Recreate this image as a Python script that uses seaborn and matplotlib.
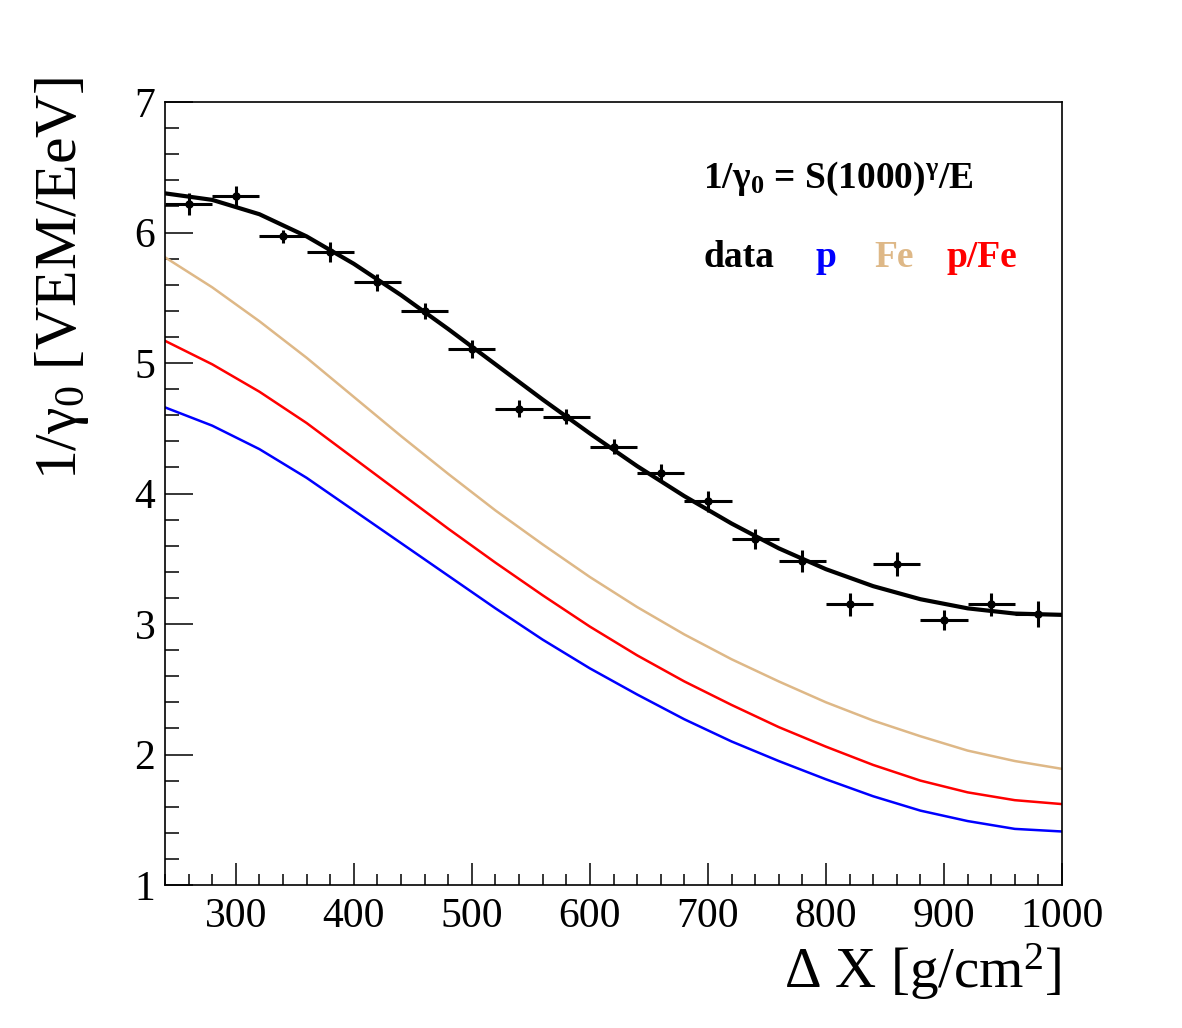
import numpy as np
import pandas as pd
import seaborn as sns
import matplotlib.pyplot as plt
from matplotlib.ticker import MultipleLocator

# measured points (ΔX bin centres, 1/gamma0, errors)
dx_data = [260, 300, 340, 380, 420, 460, 500, 540, 580, 620,
           660, 700, 740, 780, 820, 860, 900, 940, 980]
g_data = [6.22, 6.28, 5.97, 5.85, 5.62, 5.40, 5.11, 4.65, 4.59, 4.36,
          4.16, 3.94, 3.65, 3.48, 3.15, 3.46, 3.03, 3.15, 3.08]
g_err = [0.085, 0.075, 0.05, 0.075, 0.065, 0.06, 0.07, 0.065, 0.06, 0.06,
         0.065, 0.08, 0.075, 0.085, 0.085, 0.09, 0.075, 0.085, 0.10]
dx_err = [20] * len(dx_data)

# curves
dx_curve = [240, 280, 320, 360, 400, 440, 480, 520, 560, 600,
            640, 680, 720, 760, 800, 840, 880, 920, 960, 1000]
fit_data = [6.30, 6.25, 6.14, 5.97, 5.76, 5.52, 5.26, 4.99, 4.72, 4.46,
            4.21, 3.98, 3.77, 3.58, 3.42, 3.29, 3.19, 3.12, 3.08, 3.07]
curve_fe = [5.81, 5.58, 5.32, 5.04, 4.74, 4.44, 4.15, 3.87, 3.61, 3.36,
            3.13, 2.92, 2.73, 2.56, 2.40, 2.26, 2.14, 2.03, 1.95, 1.89]
curve_pfe = [5.17, 4.99, 4.78, 4.54, 4.27, 4.00, 3.73, 3.47, 3.22, 2.98,
             2.76, 2.56, 2.38, 2.21, 2.06, 1.92, 1.80, 1.71, 1.65, 1.62]
curve_p = [4.66, 4.52, 4.34, 4.12, 3.87, 3.62, 3.37, 3.12, 2.88, 2.66,
           2.46, 2.27, 2.10, 1.95, 1.81, 1.68, 1.57, 1.49, 1.43, 1.41]

sns.set_style('ticks')
plt.rcParams['font.family'] = ['Liberation Serif', 'DejaVu Serif']
plt.rcParams['mathtext.fontset'] = 'custom'
plt.rcParams['mathtext.rm'] = 'Liberation Serif'
plt.rcParams['mathtext.it'] = 'Liberation Serif:italic'
plt.rcParams['mathtext.bf'] = 'Liberation Serif:bold'
for k in ['text.color', 'axes.labelcolor', 'xtick.color', 'ytick.color',
          'axes.edgecolor']:
    plt.rcParams[k] = 'black'

fig = plt.figure(figsize=(11.82, 10.28), dpi=100)
ax = fig.add_axes([165/1182, 1-885/1028, (1062-165)/1182, (885-102)/1028])

df = pd.DataFrame({'dx': dx_curve, 'fit': fit_data, 'Fe': curve_fe,
                   'pFe': curve_pfe, 'p': curve_p})

sns.lineplot(data=df, x='dx', y='p', color='#0000ff', lw=1.8, ax=ax)
sns.lineplot(data=df, x='dx', y='pFe', color='#ff0000', lw=1.8, ax=ax)
sns.lineplot(data=df, x='dx', y='Fe', color='#deb887', lw=1.8, ax=ax)

ax.errorbar(dx_data, g_data, xerr=dx_err, yerr=g_err, fmt='o', ms=5,
            color='black', elinewidth=2.2, capsize=0, zorder=3)
sns.lineplot(data=df, x='dx', y='fit', color='black', lw=3, ax=ax, zorder=4)

ax.set_xlim(240, 1000)
ax.set_ylim(1, 7)
ax.set_xlabel('')
ax.set_ylabel('')
ax.xaxis.set_major_locator(MultipleLocator(100))
ax.xaxis.set_minor_locator(MultipleLocator(20))
ax.yaxis.set_major_locator(MultipleLocator(1))
ax.yaxis.set_minor_locator(MultipleLocator(0.2))
ax.tick_params(which='both', direction='in', top=False, right=False,
               labelsize=30, width=1.1)
ax.tick_params(axis='y', which='major', length=20, pad=7)
ax.tick_params(axis='y', which='minor', length=10)
ax.tick_params(axis='x', which='major', length=16, pad=9)
ax.tick_params(axis='x', which='minor', length=8)
for s in ax.spines.values():
    s.set_linewidth(1.2)

fig.text(62/1182, 1-278/1028, r'1/γ$_{\mathrm{0}}$ [VEM/EeV]', rotation=90,
         ha='center', va='center', fontsize=43)
fig.text(1062/1182, 1-972/1028, r'Δ X [g/cm$^{\mathrm{2}}$]', ha='right',
         va='center', fontsize=41)

ax.text(0.60, 0.89, r'1/γ$_{\mathbf{0}}$ = S(1000)$^{\mathbf{γ}}$/E',
        transform=ax.transAxes, fontsize=27, fontweight='bold',
        ha='left', va='baseline')
for lab, col, xp in [('data', 'black', 0.60), ('p', '#0000ff', 0.725),
                     ('Fe', '#deb887', 0.791), ('p/Fe', '#ff0000', 0.871)]:
    ax.text(xp, 0.789, lab, color=col, transform=ax.transAxes, fontsize=27,
            fontweight='bold', ha='left', va='baseline')

fig.savefig('out.png', dpi=100, facecolor='white')
